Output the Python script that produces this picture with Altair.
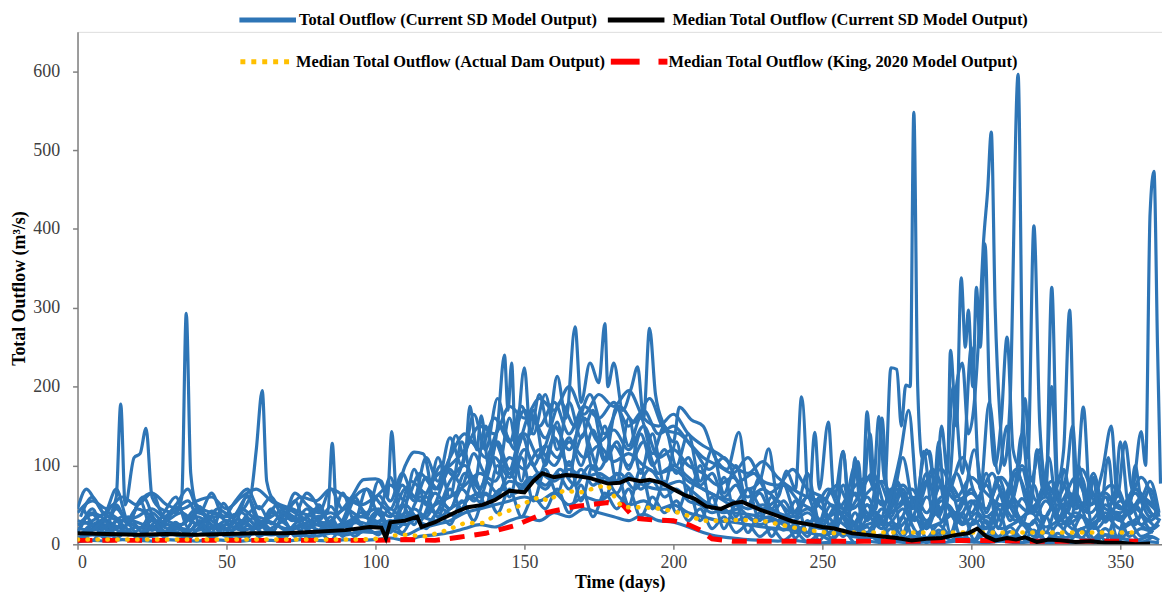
import altair as alt
import pandas as pd

# ---------------- data ----------------
grid_a = list(range(0, 361, 5)) + [363]
grid_b = list(range(2, 358, 5)) + [362]
grid_c = list(range(1, 362, 4))

b1 = [30,25,20,35,28,22,30,40,25,20, 30,25,35,28,20,25,30,22,28,35, 30,20,40,35,50,60,75,90,80,110,
      95,120,100,130,110,125,105,115,100,90, 95,80,70,60,55,45,50,40,35,45, 30,40,25,50,35,45,60,30,55,40,
      70,35,50,30,45,60,25,40,30,50, 35,45,30,40]
b2 = [15,40,30,20,45,35,15,25,45,30, 20,45,30,15,40,30,45,25,15,40, 25,45,30,60,40,80,100,70,130,90,
      140,110,150,120,160,130,145,120,150,110, 120,100,90,75,85,60,70,55,40,60, 45,25,65,40,20,70,35,80,45,90,
      40,75,30,90,50,35,80,45,60,30, 55,25,70,35]
b3 = [8,12,10,15,12,10,14,10,12,15, 12,10,14,12,15,12,10,14,12,16, 15,18,12,20,25,30,40,45,50,55,
      60,55,65,50,60,55,65,50,55,45, 50,40,35,30,28,25,22,20,18,15, 12,15,10,8,12,5,10,8,15,10,
      5,12,8,10,5,15,8,10,5,12, 8,5,10,5]
b4 = [40,55,45,60,50,65,50,45,55,60, 45,60,70,55,45,60,55,70,60,50, 60,75,55,90,70,110,140,120,160,130,
      170,150,180,140,175,160,180,150,170,140, 150,130,110,100,90,110,80,75,95,70, 60,45,70,85,50,75,45,80,95,60,
      85,65,50,95,40,75,55,85,50,65, 45,70,50,40]
b5 = [20,18,25,15,22,18,25,20,18,22, 25,18,22,28,18,22,25,18,24,28, 22,30,25,35,30,45,55,65,60,80,
      75,90,80,95,85,90,80,85,75,70, 70,60,55,45,40,38,35,30,28,25, 20,30,18,25,30,20,35,22,28,40,
      25,35,20,28,40,22,30,18,25,35, 20,28,18,25]
b6 = [5,20,35,25,10,30,20,12,35,25, 10,30,20,40,25,10,30,40,25,15, 40,25,50,30,65,45,90,60,110,85,
      120,90,135,100,140,95,125,100,130,90, 100,85,70,60,50,70,45,55,30,40, 25,50,30,15,45,25,55,20,60,30,
      55,20,65,35,25,55,30,65,20,40, 30,50,20,30]
b7 = [3,5,4,6,5,4,6,5,4,6, 5,4,6,5,4,6,5,4,6,5, 6,8,5,10,12,15,20,25,22,30,
      35,30,40,35,45,40,35,30,38,30, 28,22,15,10,8,6,5,4,5,3, 2,3,2,4,2,3,2,3,2,4,
      3,2,4,2,3,2,3,2,4,2, 3,2,3,2]
b8 = [25,30,40,30,35,45,30,25,40,35, 35,40,25,35,45,35,25,30,45,35, 45,35,70,55,85,100,120,150,140,175,
      160,185,170,200,165,190,175,195,160,150, 165,140,125,115,100,90,105,85,70,60, 55,75,45,65,80,50,70,40,75,55,
      65,45,85,55,40,75,50,35,65,45, 40,65,35,45]
b9 = [45,20,50,30,60,25,40,55,20,45, 35,60,25,50,30,65,40,20,55,70, 50,35,80,65,100,85,130,110,150,120,
      165,135,180,150,190,140,175,155,185,145, 140,120,95,110,80,90,65,75,55,45, 70,35,60,90,40,75,50,95,65,110,
      60,90,45,100,55,80,40,95,60,75, 50,85,40]
b10 = [12,28,18,35,15,30,22,16,30,20, 18,32,15,25,35,20,28,15,30,22, 30,20,35,25,45,35,60,50,70,65,
       85,70,95,75,100,80,90,70,95,75, 80,65,50,40,45,30,35,25,20,30, 15,35,20,40,25,45,15,35,50,25,
       40,20,55,30,15,45,25,35,20,40, 25,35,20]
c1 = [20,45,15,50,25,55,18,40,60,22, 48,15,52,30,62,20,45,28,55,18, 50,25,65,30,70,40,85,35,95,50,
      110,60,130,75,150,90,160,80,170,100, 155,85,165,95,150,80,160,90,140,75, 130,60,100,45,85,35,70,30,60,25,
      55,15,60,20,75,10,50,25,70,15, 60,20,80,15,55,30,90,20,65,25, 75,15,50,30,85,20,60,10,55,25, 40]
c2 = [10,25,8,30,12,20,35,10,25,15, 30,10,22,38,12,28,15,32,10,25, 18,35,12,30,20,45,15,50,25,60,
      35,70,45,85,50,100,60,110,55,95, 65,105,55,100,60,90,50,95,45,80, 40,70,30,60,20,50,15,40,10,35,
      8,30,5,25,10,40,5,30,8,35, 5,28,10,40,5,30,12,45,5,25, 10,35,5,30,8,25,5,40,10,20, 15]
c3 = [35,60,40,70,30,55,65,35,50,70, 40,65,35,55,70,45,60,35,65,50, 40,70,45,60,35,80,55,90,60,110,
      80,135,100,165,120,185,130,175,140,190, 120,180,135,170,110,175,125,160,115,150, 100,140,80,120,65,100,50,85,45,75,
      40,90,30,70,45,100,35,80,50,110, 45,90,35,75,55,120,40,85,50,95, 40,80,30,65,45,90,35,70,40,60, 50]
c4 = [15,5,20,8,18,4,22,10,16,6, 20,8,15,5,24,10,18,6,22,9, 15,5,25,10,20,12,30,15,35,20,
      40,25,55,30,65,40,70,35,60,45, 70,40,75,35,65,45,70,35,60,40, 55,30,45,20,35,15,25,10,20,5,
      15,3,12,5,18,2,14,4,20,3, 15,2,18,5,12,3,22,4,16,2, 18,3,14,5,20,2,12,4,15,3, 10]
c5 = [28,38,22,45,30,20,40,28,48,32, 25,42,32,20,38,48,26,40,30,45, 30,48,28,55,40,62,45,75,55,85,
      70,95,75,115,90,130,95,140,100,125, 110,135,100,145,105,130,95,140,100,120, 90,110,75,90,60,75,50,65,40,55,
      35,60,28,50,40,65,30,55,35,70, 30,60,40,70,28,55,45,75,30,58, 42,68,30,55,45,62,28,50,38,55, 35]
c6 = [5,18,30,12,25,8,32,15,28,10, 22,35,12,28,8,30,18,10,26,34, 14,28,10,35,18,40,22,30,45,35,
      55,45,70,55,80,65,90,70,85,75, 90,70,95,75,85,65,90,70,80,60, 70,55,50,40,45,30,35,25,30,18,
      25,10,30,8,35,12,22,6,28,10, 35,8,25,12,40,6,30,10,22,8, 30,5,25,12,35,8,20,6,28,10, 18]

sp1_days = [0,3,6,10,13,14.5,16,19,21,23, 25,28,33,35,36.5,38,40,45,52,58, 60,62,63.5,66,72,80,84,85.5,87,92,
            96,100,102,104,105.5,107,110,113,116,119]
sp1_vals = [45,70,55,35,60,178,50,110,115,147, 60,45,40,60,293,90,50,40,35,60, 120,195,80,55,45,35,40,128,40,60,
            82,83,80,60,143,70,100,117,115,60]
sp2_days = [120,124,127,130,131.7,134,135.5,138,141,143.3, 144.5,145.7,147,150,152,155,158,161,164,167,
            169,172,175,177,178,180,183,186,188,190, 192,194,197,200,202,206,210,214,218,222,
            225,229,232,235,238,241,243,245]
sp2_vals = [50,95,138,110,175,120,163,100,150,240, 170,230,130,224,140,190,150,213,160,276,
            180,230,205,280,200,230,170,200,225,160, 274,190,150,130,174,158,150,110,95,142,
            70,80,121,60,93,70,187,60]
sp3_days = [246,247.5,249,252,254,257,259,262,263.5,265, 267,269,271,273,275,276.5,278,279.5,280.7,282,
            283.5,286,288,290,292,293,295,296.6,298,299, 300.5,301.7,303,304.6,306,308,310,312,314,316,
            318,320,323,325,327,329,331,333,335,337.6, 340,344,347,349,351.6,354,357,358.5,360,361.3,
            362.5,363.5]
sp3_vals = [60,142,70,155,60,118,50,105,60,168, 70,162,80,224,222,150,202,200,548,200,
            110,118,60,150,90,246,150,338,250,297, 200,326,250,381,200,100,155,263,120,100,
            185,80,120,60,326,80,120,297,60,174, 50,93,150,60,130,70,143,100,420,473,
            250,77]
sp4_days = [250,255,260,265,270,275,280,285,290,293, 295,297,299,301,303,304,305.5,306.7,308,309.7,
            311,313,315.7,317.5,319,321,323,325,327,329, 332,334,336,340,345,350,355,360,363.5]
sp4_vals = [20,45,15,60,25,80,30,120,30,90, 200,230,140,180,300,378,450,523,300,155,
            100,180,596,150,110,404,150,80,200,60, 90,150,50,40,60,45,70,40,30]
sp5_days = [255,257,259,261,263,266,268,270,272,276, 279,282,284,287,289,291,294,297,300,303,
            306,309,312,314,317,320,322,324,326,329, 331,334,336,339,341,343,346,348,350,353,
            355,357,360,363]
sp5_vals = [30,118,40,110,35,140,45,160,60,110, 170,60,118,40,130,60,200,90,250,70,
            180,90,150,60,140,50,120,70,110,40, 95,50,100,40,85,30,110,50,130,45,
            100,60,80,40]

med_days = [0,10,20,30,40,50,60,70,80,90, 98,102,103.5,105,110,114,115.5,120,127,131,
            136,140,145,150,153,156,160,164,167,172, 178,182,185,189,192,196,200,204,207,211,
            216,220,223,229,235,240,246,250,254,260, 265,270,275,280,285,290,295,299,302,305,
            308,312,315,318,322,326,330,335,340,345, 350,355,360]
med_vals = [14,13,12,13,12,13,14,14,16,18, 22,21,8,28,30,35,22,28,41,47,
            50,56,68,66,80,90,85,88,87,84, 77,78,83,80,82,78,70,62,58,48,
            45,52,54,44,36,29,25,22,20,14, 12,10,8,5,7,8,12,14,20,10,
            5,8,6,9,3,6,5,3,4,2, 2,0,1]
act_days = [0,20,40,60,80,95,100,105,110,117, 124,130,136,140,145,150,155,158,163,169,
            175,178,181,183,190,196,201,210,216,223, 231,242,253,260,280,300,320,340,356]
act_vals = [6,6,6,6,6,6,7,11,12,10, 18,27,27,36,43,52,60,55,68,66,
            73,75,55,47,47,45,41,30,30,31, 29,20,14,15,15,15,15,15,15]
king_days = [0,20,40,60,80,100,110,120,128,137, 147,157,167,178,183,187,193,200,205,209,
             213,220,240,260,280,300,320,340,356]
king_vals = [5,5,5,5,5,5,6,5,9,14, 24,40,48,53,50,33,31,30,25,18,
             7,4,4,4,4,5,4,4,4]

legend_labels = [
    "Total Outflow (Current SD Model Output)",
    "Median Total Outflow (Current SD Model Output)",
    "Median Total Outflow (Actual Dam Output)",
    "Median  Total Outflow (King, 2020 Model Output)",
]

# ---------------- tables ----------------
series = [
    ("b1", grid_a, b1), ("b2", grid_a, b2), ("b3", grid_a, b3), ("b4", grid_a, b4),
    ("b5", grid_a, b5), ("b6", grid_a, b6), ("b7", grid_a, b7), ("b8", grid_a, b8),
    ("b9", grid_b, b9), ("b10", grid_b, b10),
    ("c1", grid_c, c1), ("c2", grid_c, c2), ("c3", grid_c, c3), ("c4", grid_c, c4),
    ("c5", grid_c, c5), ("c6", grid_c, c6),
    ("sp1", sp1_days, sp1_vals), ("sp2", sp2_days, sp2_vals),
    ("sp3", sp3_days, sp3_vals), ("sp4", sp4_days, sp4_vals), ("sp5", sp5_days, sp5_vals),
]
rows = []
for name, days, vals in series:
    assert len(days) == len(vals), (name, len(days), len(vals))
    for d, v in zip(days, vals):
        rows.append({"series": name, "day": d, "flow": v})
blue_df = pd.DataFrame(rows)
med_df = pd.DataFrame({"day": med_days, "flow": med_vals})
act_df = pd.DataFrame({"day": act_days, "flow": act_vals})
king_df = pd.DataFrame({"day": king_days, "flow": king_vals})

# ---------------- scales & axes ----------------
FONT = "Liberation Serif"
xscale = alt.Scale(domain=[0, 364], nice=False, zero=False)
yscale = alt.Scale(domain=[0, 650], nice=False)
xaxis = alt.Axis(values=list(range(0, 351, 50)), title="Time (days)", grid=False,
                 domainColor="#808080", domainWidth=1.5, tickColor="#808080", tickWidth=1.5, tickSize=5,
                 labelFont=FONT, labelFontSize=18, labelColor="#404040", labelPadding=4,
                 titleFont=FONT, titleFontSize=18, titleFontWeight="bold", titleColor="#000000",
                 titlePadding=2)
yaxis = alt.Axis(values=list(range(0, 601, 100)), title="Total Outflow (m³/s)", grid=False,
                 domainColor="#808080", domainWidth=1.5, tickColor="#808080", tickWidth=1.5, tickSize=5,
                 labelFont=FONT, labelFontSize=18, labelColor="#404040", labelPadding=13,
                 titleFont=FONT, titleFontSize=18, titleFontWeight="bold", titleColor="#000000",
                 titlePadding=4)

X = alt.X("day:Q", scale=xscale, axis=xaxis)
Y = alt.Y("flow:Q", scale=yscale, axis=yaxis)

blue = alt.Chart(blue_df).mark_line(strokeWidth=3.2, interpolate="monotone", clip=True,
                                    color="#2E75B6").encode(x=X, y=Y, detail="series:N")
king = alt.Chart(king_df).mark_line(strokeWidth=5, color="#FF0000", strokeDash=[15, 10],
                                    clip=True).encode(x=X, y=Y)
act = alt.Chart(act_df).mark_line(strokeWidth=4.5, color="#FFC000", strokeDash=[0.5, 9.5],
                                  strokeCap="round", clip=True).encode(x=X, y=Y)
med = alt.Chart(med_df).mark_line(strokeWidth=4, color="#000000", clip=True).encode(x=X, y=Y)

# ---------------- legend (drawn manually) ----------------
dummy = pd.DataFrame({"k": [0]})

def sample(x1, x2, y, **kw):
    return alt.Chart(dummy).mark_rule(**kw).encode(x=alt.value(x1), x2=alt.value(x2), y=alt.value(y))

def label(txt, x, y):
    return alt.Chart(dummy).mark_text(text=txt, align="left", baseline="middle", font=FONT,
                                      fontWeight="bold", fontSize=16.5, color="#000000").encode(
        x=alt.value(x), y=alt.value(y))

legend = [
    sample(163, 220, -12, color="#2E75B6", strokeWidth=5),
    label(legend_labels[0], 223, -12),
    sample(534, 591, -12, color="#000000", strokeWidth=5),
    label(legend_labels[1], 599, -12),
    sample(164, 217, 30, color="#FFC000", strokeWidth=5, strokeDash=[5, 6]),
    label(legend_labels[2], 220, 30),
    sample(537, 566, 30, color="#FF0000", strokeWidth=6),
    sample(585, 594, 30, color="#FF0000", strokeWidth=6),
    label(legend_labels[3], 595, 30),
]

chart = alt.layer(blue, king, act, med, *legend).properties(
    width=1092, height=516,
    autosize=alt.AutoSizeParams(type="none"),
    padding={"left": 70, "top": 22, "right": 0, "bottom": 50},
).configure_view(stroke=None).configure(background="#FFFFFF")

chart.save("out.html", embed_options={"renderer": "svg", "actions": False})
